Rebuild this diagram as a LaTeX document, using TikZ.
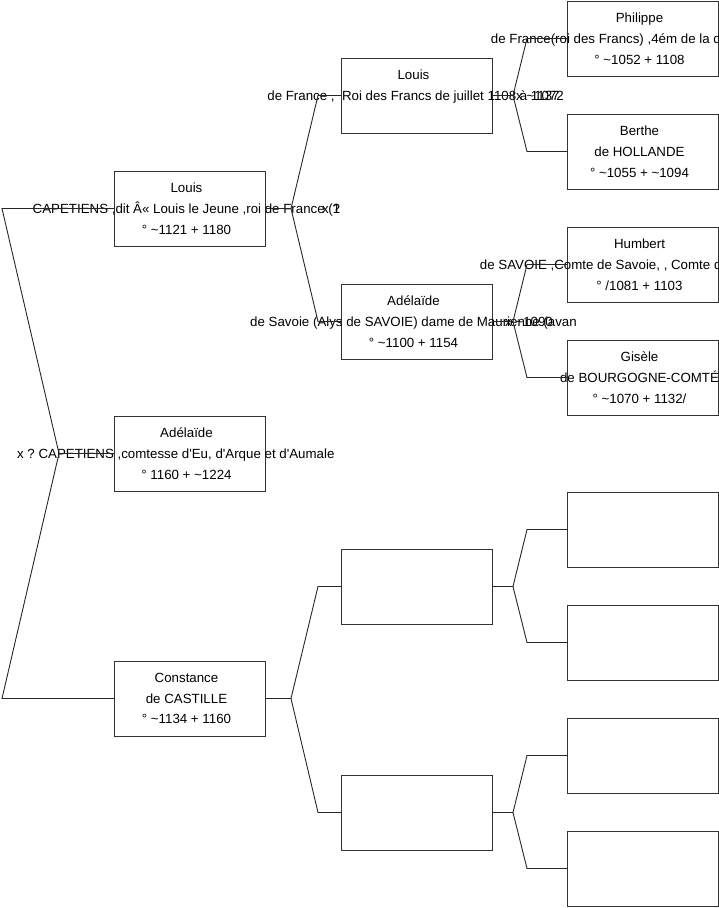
\documentclass[tikz,border=0pt]{standalone}
\usepackage{fontspec}
\newfontfamily\arial{Liberation Sans}
\usetikzlibrary{positioning,calc}

\begin{document}
\begin{tikzpicture}[
      x=1pt, y=-1pt,
      node distance=38pt and 76pt,
      every node/.style={font=\arial\fontsize{13.3}{20.8}\selectfont},
      box/.style={
        draw=black!80, line width=0.9pt, inner sep=0pt, outer sep=0pt,
        minimum width=151pt, minimum height=75pt
      },
      txt/.style={align=center, inner sep=0pt},
      boxtxt/.style={txt, xshift=-3pt},
      link/.style={draw=black!85, line width=0.9pt}
    ]
    \useasboundingbox (0,0) rectangle (719,908);
    \clip (0,0) rectangle (719,908);

    % BOXES
    \node[box] (adelaide) at (189.5,453.5) {};
    \node[box, above=170pt of adelaide] (louis) {};
    \node[box, below=170pt of adelaide] (constance) {};

    \node[box, above right=38pt and 76pt of louis] (louisp) {};
    \node[box, below right=38pt and 76pt of louis] (adelaidem) {};
    \node[box, above right=37pt and 76pt of constance] (videp) {};
    \node[box, below right=39pt and 76pt of constance] (videm) {};

    \node[box, right=75pt of louisp, yshift=57pt] (philippe) {};
    \node[box, right=75pt of louisp, yshift=-56pt] (berthe) {};
    \node[box, right=75pt of adelaidem, yshift=57pt] (humbert) {};
    \node[box, right=75pt of adelaidem, yshift=-56pt] (gisele) {};
    \node[box, right=75pt of videp, yshift=57pt] (videpp) {};
    \node[box, right=75pt of videp, yshift=-56pt] (videpm) {};
    \node[box, right=75pt of videm, yshift=57pt] (videmp) {};
    \node[box, right=75pt of videm, yshift=-56pt] (videmm) {};

    % TEXTS
    \node[boxtxt] (adelaide-t) at (adelaide) {Adélaïde\\CAPETIENS ,comtesse d'Eu, d'Arque et d'Aumale\\° 1160 + \textasciitilde1224};
    \node[boxtxt] (louis-t) at (louis) {Louis\\CAPETIENS ,dit Â« Louis le Jeune ,roi de France (1\\° \textasciitilde1121 + 1180};
    \node[boxtxt] (constance-t) at (constance) {Constance\\de CASTILLE\\° \textasciitilde1134 + 1160};
    \node[boxtxt] (louisp-t) at (louisp) {Louis\\de France ,\ \ Roi des Francs de juillet 1108 à 1137\\\phantom{0}};
    \node[boxtxt] (adelaidem-t) at (adelaidem) {Adélaïde\\de Savoie (Alys de SAVOIE) dame de Maurienne (avan\\° \textasciitilde1100 + 1154};
    \node[boxtxt] (philippe-t) at (philippe) {Philippe\\de France(roi des Francs) ,4ém de la dynastie des\\° \textasciitilde1052 + 1108};
    \node[boxtxt] (berthe-t) at (berthe) {Berthe\\de HOLLANDE\\° \textasciitilde1055 + \textasciitilde1094};
    \node[boxtxt] (humbert-t) at (humbert) {Humbert\\de SAVOIE ,Comte de Savoie, , Comte de Maurienne,\\° /1081 + 1103};
    \node[boxtxt] (gisele-t) at (gisele) {Gisèle\\de BOURGOGNE-COMTÉ\\° \textasciitilde1070 + 1132/};

    % MARIAGES
    \node[txt, left=79pt of adelaide] (m0) {x ?};
    \node[txt, right=57pt of louis] (m1) {x ?};
    \node[txt, right=24pt of louisp] (m2) {x \textasciitilde1072};
    \node[txt, right=13pt of adelaidem] (m3) {x \textasciitilde1090};

    % LINKS
    \draw[link] (adelaide.west) -- ++(-55,0) coordinate (f0) -- ([xshift=-112pt]louis.west) -- (louis.west);
    \draw[link] (f0) -- ([xshift=-112pt]constance.west) -- (constance.west);

    \draw[link] (louis.east) -- ++(26,0) coordinate (f1) -- ([xshift=-23pt]louisp.west) -- (louisp.west);
    \draw[link] (f1) -- ([xshift=-23pt]adelaidem.west) -- (adelaidem.west);
    \draw[link] (constance.east) -- ++(26,0) coordinate (f2) -- ([xshift=-23pt]videp.west) -- (videp.west);
    \draw[link] (f2) -- ([xshift=-23pt]videm.west) -- (videm.west);

    \draw[link] (louisp.east) -- ++(21,0) coordinate (f3) -- ([xshift=-40pt]philippe.west) -- (philippe.west);
    \draw[link] (f3) -- ([xshift=-40pt]berthe.west) -- (berthe.west);
    \draw[link] (adelaidem.east) -- ++(21,0) coordinate (f4) -- ([xshift=-40pt]humbert.west) -- (humbert.west);
    \draw[link] (f4) -- ([xshift=-40pt]gisele.west) -- (gisele.west);
    \draw[link] (videp.east) -- ++(21,0) coordinate (f5) -- ([xshift=-40pt]videpp.west) -- (videpp.west);
    \draw[link] (f5) -- ([xshift=-40pt]videpm.west) -- (videpm.west);
    \draw[link] (videm.east) -- ++(21,0) coordinate (f6) -- ([xshift=-40pt]videmp.west) -- (videmp.west);
    \draw[link] (f6) -- ([xshift=-40pt]videmm.west) -- (videmm.west);
  \end{tikzpicture}
\end{document}
